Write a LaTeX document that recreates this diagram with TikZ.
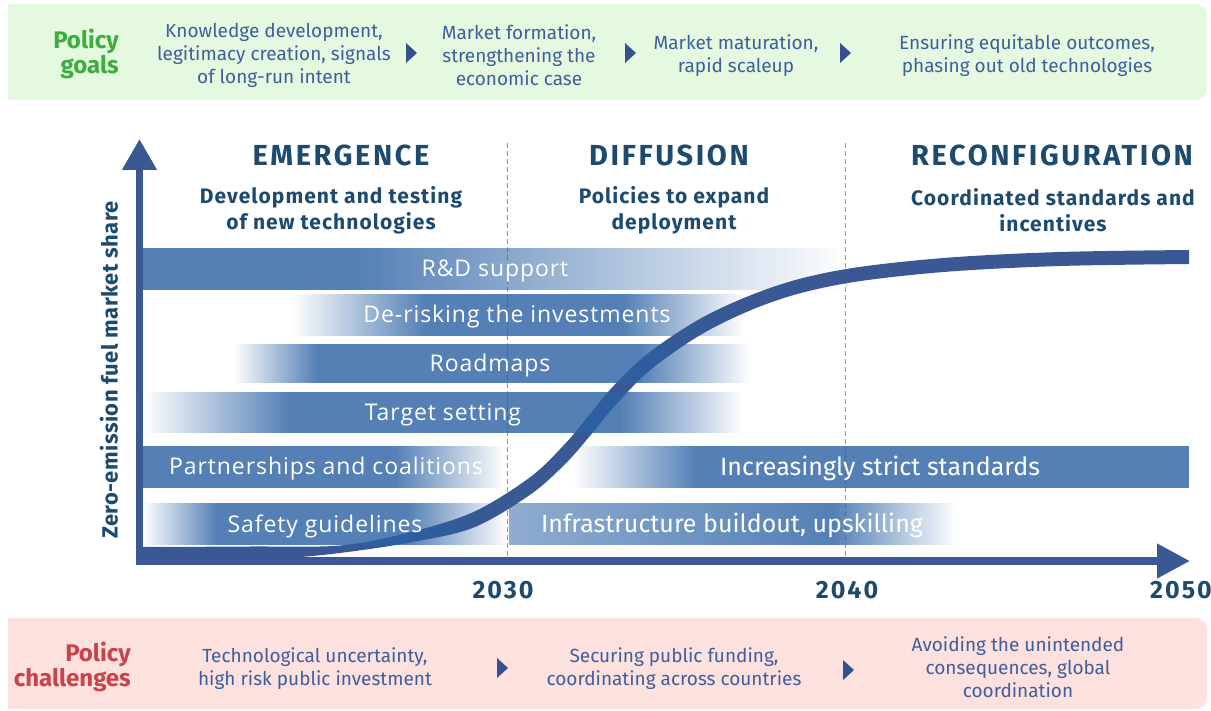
\documentclass[tikz,border=0pt]{standalone}
\usepackage{fontspec}
\setmainfont{Fira Sans}
\newfontfamily\barfont[LetterSpace=4]{Open Sans}
\newfontfamily\headfont[LetterSpace=9]{Fira Sans}
\newfontfamily\subfont[LetterSpace=5]{Fira Sans}
\newfontfamily\yearfont[LetterSpace=8]{Fira Sans}
\newfontfamily\labfont[LetterSpace=2]{Fira Sans}
\usetikzlibrary{arrows.meta,fadings}
\definecolor{greenbg}{HTML}{E5F9E0}
\definecolor{greentxt}{HTML}{3BAE3F}
\definecolor{pinkbg}{HTML}{FCE1DE}
\definecolor{redtxt}{HTML}{C8434A}
\definecolor{bodyblue}{HTML}{3F5E9C}
\definecolor{tri}{HTML}{34508F}
\definecolor{navy}{HTML}{1D4A6F}
\definecolor{axisblue}{HTML}{3A5894}
\definecolor{barc}{RGB}{41,96,163}
\definecolor{dashc}{HTML}{8098C2}
\tikzfading[name=fout, left color=transparent!0, right color=transparent!100]
\tikzfading[name=fin, left color=transparent!100, right color=transparent!0]
\tikzfading[name=fpart, left color=transparent!35, right color=transparent!0]
\tikzset{
  bodytxt/.style={text=bodyblue, align=center, inner sep=0pt, font=\fontsize{19}{23}\selectfont},
  goalhead/.style={text=greentxt, align=right, anchor=east, inner sep=0pt, font=\bfseries\fontsize{24}{25}\selectfont},
  chalhead/.style={text=redtxt, align=right, anchor=east, inner sep=0pt, font=\bfseries\fontsize{24}{25}\selectfont},
  phase/.style={text=navy, inner sep=0pt, font=\headfont\bfseries\fontsize{29}{32}\selectfont},
  subphase/.style={text=navy, align=center, inner sep=0pt, font=\subfont\bfseries\fontsize{21}{26}\selectfont},
  year/.style={text=navy, inner sep=0pt, font=\yearfont\bfseries\fontsize{25}{28}\selectfont},
  bartxt/.style={text=white, anchor=base, inner sep=0pt, font=\barfont\fontsize{23}{26}\selectfont},
  condtxt/.style={text=white, anchor=base, inner sep=0pt, font=\fontsize{25}{28}\selectfont},
  bar/.style={fill=barc, fill opacity=0.8},
  tipfill/.style={fill=tri},
  guide/.style={draw=dashc, line width=1pt, dash pattern=on 5pt off 3pt},
  axisline/.style={draw=axisblue, line width=7.5pt}
}
\begin{document}
\begin{tikzpicture}[x=1pt,y=-1pt]
\useasboundingbox (0,0) rectangle (1211,711);
% top and bottom bands
\fill[greenbg, rounded corners=11pt] (8,4) rectangle (1207,100);
\fill[greenbg] (8,4) rectangle (40,100);
\fill[pinkbg, rounded corners=11pt] (8,618) rectangle (1207,709);
\fill[pinkbg] (8,618) rectangle (40,709);

\node[goalhead] (pg) at (119,54) {Policy\\goals};
\node[bodytxt] (g1) at (274,55.5) {Knowledge development,\\legitimacy creation, signals\\of long-run intent};
\node[bodytxt] (g2) at (519,55.5) {Market formation,\\strengthening the\\economic case};
\node[bodytxt] (g3) at (736,56) {Market maturation,\\rapid scaleup};
\node[bodytxt] (g4) at (1027,56) {Ensuring equitable outcomes,\\phasing out old technologies};
\fill[tipfill] (406,43) -- (417,53) -- (406,63) -- cycle;
\fill[tipfill] (625,43) -- (636,53) -- (625,63) -- cycle;
\fill[tipfill] (840,43) -- (851,53) -- (840,63) -- cycle;

\node[chalhead] (pc) at (131,666.5) {Policy\\challenges};
\node[bodytxt] (c1) at (315,669) {Technological uncertainty,\\high risk public investment};
\node[bodytxt] (c2) at (674,669) {Securing public funding,\\coordinating across countries};
\node[bodytxt] (c3) at (1018,667) {Avoiding the unintended\\consequences, global\\coordination};
\fill[tipfill] (497,658) -- (508,668) -- (497,678) -- cycle;
\fill[tipfill] (843,660) -- (854,670) -- (843,680) -- cycle;

% phase headings
\node[phase] (emer) at (341,155) {EMERGENCE};
\node[phase] (diff) at (669,155) {DIFFUSION};
\node[phase] (reco) at (1052,155) {RECONFIGURATION};
\node[subphase] (emers) at (331,210) {Development and testing\\of new technologies};
\node[subphase] (diffs) at (674,210) {Policies to expand\\deployment};
\node[subphase] (recos) at (1053,210) {Coordinated standards and\\incentives};

% guides
\coordinate (d1t) at (507,143); \coordinate (d1b) at (507,557);
\coordinate (d2t) at (845,143); \coordinate (d2b) at (845,557);
\draw[guide] (d1t) -- (d1b);
\draw[guide] (d2t) -- (d2b);

% S-curve (filled band with tapered tail)
\fill[axisblue] plot[smooth, tension=0.55] coordinates {(143,547) (250,546.5) (340,545.5) (407,533) (473,512.2) (530,477.3) (565,443.9) (590,414.1) (615,384.3) (650,351.8) (700,318.8) (750,295.5) (800,278.75) (860,266.9) (950,257.5) (1060,252) (1189,250)}
  -- plot[smooth, tension=0.55] coordinates {(1189,264) (1060,266) (950,271.5) (860,281.1) (800,293.25) (750,310.5) (700,335.2) (650,370.2) (615,405.7) (590,435.9) (565,464.1) (530,494.8) (473,527.8) (407,543) (340,553) (290,558) (250,561) (143,561)} -- cycle;

% axes
\coordinate (O) at (139.5,561);
\coordinate (Ytop) at (139.5,139);
\coordinate (Xend) at (1190,561);
\draw[axisline, {Triangle[width=33pt,length=31pt]}-{Triangle[width=33pt,length=33pt]}] (Ytop) -- (O) -- (Xend);

% bars
% R&D support
\fill[bar] (143,248) rectangle (357,290);
\fill[bar, path fading=fout] (357,248) rectangle (845,290);
% De-risking
\fill[bar, path fading=fin] (292,294) rectangle (425,336);
\fill[bar] (425,294) rectangle (623,336);
\fill[bar, path fading=fout] (623,294) rectangle (745,336);
% Roadmaps
\fill[bar, path fading=fin] (233,344) rectangle (317,383);
\fill[bar] (317,344) rectangle (640,383);
\fill[bar, path fading=fout] (640,344) rectangle (750,383);
% Target setting
\fill[bar, path fading=fin] (143,392) rectangle (290,433);
\fill[bar] (290,392) rectangle (620,433);
\fill[bar, path fading=fout] (620,392) rectangle (743,433);
% Partnerships
\fill[bar] (143,446) rectangle (395,488);
\fill[bar, path fading=fout] (395,446) rectangle (505,488);
% Increasingly strict standards
\fill[bar, path fading=fin] (573,446) rectangle (696,488);
\fill[bar] (696,446) rectangle (1189,488);
% Safety guidelines
\fill[bar, path fading=fin] (143,503) rectangle (217,545);
\fill[bar] (217,503) rectangle (407,545);
\fill[bar, path fading=fout] (407,503) rectangle (507,545);
% Infrastructure
\fill[bar, path fading=fpart] (509,503) rectangle (833,545);
\fill[bar, path fading=fout] (833,503) rectangle (957,545);

\node[bartxt] (rd) at (495,277) {R\&D support};
\node[bartxt] (risk) at (517,323) {De-risking the investments};
\node[bartxt] (road) at (490,371.5) {Roadmaps};
\node[bartxt] (targ) at (443,420.5) {Target setting};
\node[bartxt] (part) at (326,475) {Partnerships and coalitions};
\node[condtxt] (strict) at (880,475.5) {Increasingly strict standards};
\node[bartxt] (safe) at (325,532) {Safety guidelines};
\node[condtxt] (infra) at (732,532.5) {Infrastructure buildout, upskilling};

% axis labels
\node[year] (y30) at (503,590) {2030};
\node[year] (y40) at (847,590) {2040};
\node[year] (y50) at (1181,590) {2050};
\node[text=navy, inner sep=0pt, rotate=90, font=\labfont\bfseries\fontsize{22}{24}\selectfont] (ylab) at (109,370) {Zero-emission fuel market share};
\end{tikzpicture}
\end{document}
